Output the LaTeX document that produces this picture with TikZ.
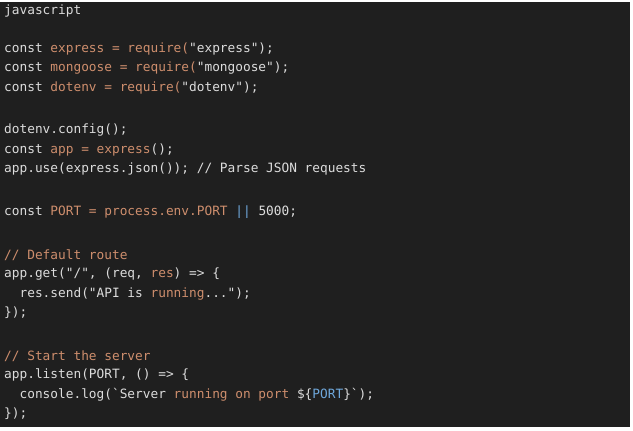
\documentclass[tikz,border=0pt]{standalone}
\usepackage{fontspec}
\setmonofont{DejaVu Sans Mono}
\definecolor{bg}{HTML}{1F1F1F}
\definecolor{fg}{HTML}{DCDCDC}
\definecolor{orn}{HTML}{CE8E6D}
\definecolor{blu}{HTML}{6FA8DC}
\newcommand{\oc}[1]{\textcolor{orn}{#1}}
\newcommand{\bc}[1]{\textcolor{blu}{#1}}
\begin{document}
\begin{tikzpicture}[x=1pt,y=-1pt,
  code/.style={anchor=west,inner sep=0pt,text=fg,font=\ttfamily\fontsize{12.8}{14}\selectfont}]
\useasboundingbox (0,0) rectangle (633,431);
\fill[white] (0,0) rectangle (633,431);
\fill[bg] (0,2) rectangle (630,427);
\node[code] (l1) at (4,11) {javascript};
\node[code] (l3) at (4,49) {const \oc{express = require(}"express");};
\node[code] (l4) at (4,68) {const \oc{mongoose = require(}"mongoose");};
\node[code] (l5) at (4,88) {const \oc{dotenv = require(}"dotenv");};
\node[code] (l7) at (4,130) {dotenv.config();};
\node[code] (l8) at (4,150) {const \oc{app = express}();};
\node[code] (l9) at (4,169) {app.use(express.json()); // Parse JSON requests};
\node[code] (l11) at (4,212) {const \oc{PORT = process.env.PORT} \bc{||} 5000;};
\node[code] (l13) at (4,255) {\oc{// Default route}};
\node[code] (l14) at (4,274) {app.get("/", (req, \oc{res}) => \{};
\node[code] (l15) at (4,294) {\ \ res.send("API is \oc{running}...");};
\node[code] (l16) at (4,313) {\});};
\node[code] (l18) at (4,356) {\oc{// Start the server}};
\node[code] (l19) at (4,375) {app.listen(PORT, () => \{};
\node[code] (l20) at (4,395) {\ \ console.log(`Server \oc{running on port} \$\{\bc{PORT}\}`);};
\node[code] (l21) at (4,414) {\});};
\end{tikzpicture}
\end{document}
